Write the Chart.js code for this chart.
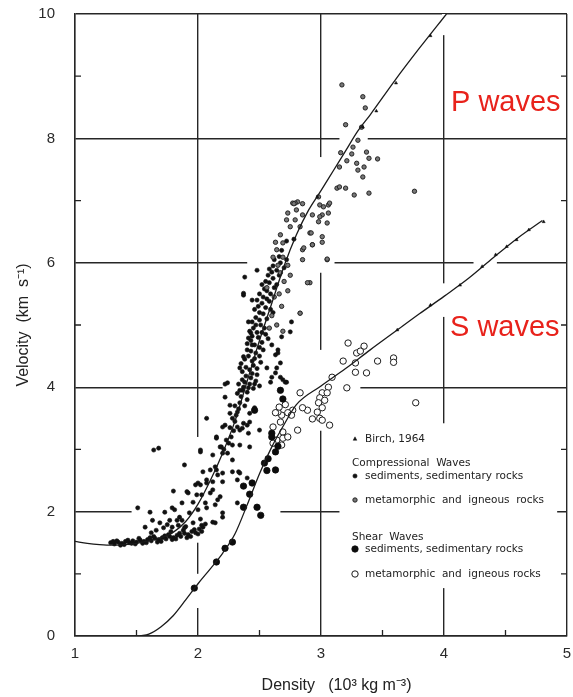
<!DOCTYPE html>
<html>
<head>
<meta charset="utf-8">
<script src="https://cdn.jsdelivr.net/npm/chart.js@4.4.1/dist/chart.umd.min.js"></script>
<style>
  html, body { margin: 0; padding: 0; background: #fff; }
  canvas { display: block; }
</style>
</head>
<body>
<canvas id="chart" width="573" height="697"></canvas>
<script>
// axis ticks
const xTickLabels = [1, 2, 3, 4, 5];
const yTickLabels = [0, 2, 4, 6, 8, 10];

// Nafe-Drake curves (density, velocity)
const pCurve = [
  [1.0, 1.52], [1.1, 1.49], [1.2, 1.47], [1.3, 1.46], [1.4, 1.47], [1.5, 1.49],
  [1.6, 1.53], [1.7, 1.58], [1.8, 1.67], [1.9, 1.84], [2.0, 2.12], [2.1, 2.5],
  [2.2, 2.94], [2.3, 3.45], [2.4, 4.1], [2.5, 4.75], [2.6, 5.35], [2.7, 5.95],
  [2.8, 6.45], [2.9, 6.85], [3.0, 7.16], [3.1, 7.48], [3.2, 7.8], [3.3, 8.12],
  [3.4, 8.38], [3.6, 8.93], [3.8, 9.45], [4.02, 10.0]
];
const sCurve = [
  [1.53, 0.0], [1.6, 0.03], [1.7, 0.15], [1.8, 0.33], [1.9, 0.58], [2.0, 0.84],
  [2.1, 1.08], [2.2, 1.33], [2.3, 1.64], [2.4, 2.11], [2.5, 2.61], [2.6, 3.04],
  [2.7, 3.4], [2.8, 3.72], [3.0, 4.02], [3.2, 4.3], [3.4, 4.6], [3.6, 4.89],
  [3.8, 5.18], [4.0, 5.46], [4.2, 5.75], [4.4, 6.08], [4.6, 6.4], [4.8, 6.68]
];

// Birch, 1964 marks on the curves
const birch = [
  [2.97, 7.06], [3.34, 8.18], [3.45, 8.44], [3.61, 8.89], [3.89, 9.65],
  [3.62, 4.92], [3.89, 5.32], [4.13, 5.64], [4.31, 5.94], [4.42, 6.13],
  [4.51, 6.26], [4.59, 6.37], [4.69, 6.53], [4.81, 6.66]
];

// compressional waves, sediments
const pSediments = [
  [1.29, 1.50], [1.32, 1.48], [1.35, 1.51], [1.38, 1.49], [1.41, 1.52], [1.44, 1.50], [1.47, 1.53],
  [1.50, 1.51], [1.53, 1.54], [1.56, 1.52], [1.59, 1.55], [1.62, 1.53], [1.65, 1.57], [1.68, 1.55],
  [1.71, 1.58], [1.74, 1.56], [1.77, 1.60], [1.80, 1.58], [1.83, 1.62], [1.86, 1.60], [1.89, 1.65],
  [1.92, 1.63], [1.95, 1.68], [1.98, 1.66], [2.01, 1.72], [2.04, 1.75],
  [1.34, 1.53], [1.40, 1.47], [1.46, 1.49], [1.52, 1.57], [1.58, 1.50], [1.64, 1.60], [1.70, 1.52],
  [1.76, 1.63], [1.82, 1.56], [1.88, 1.70], [1.94, 1.60], [2.00, 1.64],
  [1.31, 1.52], [1.37, 1.46], [1.43, 1.54], [1.49, 1.48], [1.55, 1.49], [1.61, 1.58], [1.67, 1.51],
  [1.73, 1.61], [1.79, 1.55], [1.85, 1.65], [1.91, 1.58], [1.97, 1.71], [2.03, 1.68], [2.06, 1.80],
  [1.66, 1.70], [1.72, 1.74], [1.78, 1.68], [1.84, 1.78], [1.90, 1.76], [1.96, 1.82], [2.02, 1.88],
  [1.62, 1.66], [1.75, 1.79], [1.87, 1.86],
  [1.80, 2.33], [1.51, 2.06], [1.61, 1.99], [1.73, 1.99], [1.81, 2.03], [1.92, 2.30], [1.98, 2.43],
  [2.03, 2.27], [1.87, 2.14], [1.57, 1.75], [1.63, 1.86], [1.69, 1.82], [1.77, 1.86], [1.85, 1.91],
  [1.93, 1.98], [2.00, 2.03], [2.06, 2.14], [2.12, 1.83], [2.20, 1.98], [2.10, 2.30], [2.16, 2.19],
  [1.79, 1.75], [1.89, 1.74], [2.03, 1.78], [1.64, 2.99], [1.68, 3.02],
  [1.89, 2.75], [1.91, 2.32], [1.96, 2.15], [1.99, 2.27], [2.07, 2.46], [2.02, 2.43], [2.12, 2.35],
  [2.18, 2.24], [2.14, 2.11], [2.07, 2.06], [1.83, 1.86], [1.79, 2.06], [2.10, 2.67], [2.15, 2.67],
  [2.20, 2.62], [2.33, 2.64], [2.12, 2.91], [2.18, 3.04], [2.20, 2.94], [2.28, 3.07], [2.34, 3.07],
  [2.42, 3.04], [2.02, 2.96], [2.15, 3.20], [2.20, 3.36], [2.32, 3.36], [2.36, 3.34], [2.40, 3.39],
  [2.20, 1.91], [2.14, 1.82], [2.32, 2.14],
  [2.07, 3.50], [2.02, 2.99], [2.22, 3.84], [2.26, 3.58], [2.22, 3.39], [2.15, 3.18], [2.19, 3.04],
  [2.14, 2.72], [2.07, 2.51], [2.16, 2.59], [2.28, 2.83], [2.24, 2.94], [2.41, 3.26], [2.34, 3.31],
  [2.37, 3.42], [2.42, 3.44], [2.32, 3.60], [2.42, 3.58], [2.46, 3.67], [2.50, 3.31], [2.34, 2.62],
  [2.40, 2.54], [2.32, 2.51], [2.28, 2.64], [2.20, 2.48], [2.12, 2.48], [2.04, 2.64], [2.00, 2.46],
  [2.26, 3.71], [2.22, 4.05], [2.41, 3.99],
  [2.25, 3.10], [2.27, 3.20], [2.29, 3.30], [2.30, 3.45], [2.31, 3.55], [2.33, 3.65], [2.34, 3.75],
  [2.35, 3.85], [2.36, 3.95], [2.28, 3.50], [2.30, 3.70], [2.32, 3.90], [2.38, 3.70], [2.40, 3.80],
  [2.26, 3.35], [2.23, 3.15], [2.21, 3.00],
  [2.34, 3.95], [2.37, 4.00], [2.40, 3.92], [2.42, 4.05], [2.45, 3.98], [2.47, 4.10], [2.36, 4.12],
  [2.39, 4.18], [2.43, 4.15], [2.48, 4.20], [2.50, 4.02], [2.33, 4.05],
  [2.36, 4.25], [2.39, 4.32], [2.42, 4.28], [2.45, 4.35], [2.48, 4.30], [2.51, 4.40], [2.38, 4.45],
  [2.41, 4.50], [2.44, 4.42], [2.47, 4.55], [2.50, 4.50], [2.53, 4.60], [2.40, 4.60], [2.35, 4.38],
  [2.40, 4.70], [2.43, 4.75], [2.46, 4.68], [2.49, 4.80], [2.52, 4.72], [2.55, 4.85], [2.42, 4.90],
  [2.45, 4.95], [2.48, 4.88], [2.51, 5.00], [2.54, 4.95], [2.57, 4.78], [2.44, 4.82],
  [2.44, 5.05], [2.47, 5.12], [2.50, 5.08], [2.53, 5.18], [2.56, 5.10], [2.59, 5.25], [2.46, 5.25],
  [2.49, 5.30], [2.52, 5.35], [2.55, 5.28], [2.58, 5.38], [2.61, 5.20], [2.48, 5.40],
  [2.50, 5.50], [2.53, 5.45], [2.56, 5.55], [2.59, 5.50], [2.62, 5.60], [2.52, 5.65], [2.55, 5.70],
  [2.58, 5.68], [2.61, 5.75], [2.64, 5.65], [2.57, 5.80], [2.66, 5.80],
  [2.58, 5.90], [2.61, 5.95], [2.64, 5.88], [2.67, 6.00], [2.70, 5.92], [2.62, 6.05], [2.66, 6.10],
  [2.72, 6.05], [2.48, 5.88], [2.78, 6.38], [2.68, 6.20], [2.72, 6.35],
  [2.38, 5.77], [2.37, 5.48], [2.44, 5.40], [2.41, 5.05], [2.41, 4.79], [2.44, 4.68], [2.37, 4.49],
  [2.34, 4.31], [2.24, 4.07], [2.43, 4.87], [2.37, 5.51],
  [2.83, 5.19], [2.76, 5.05], [2.75, 4.89], [2.68, 4.81], [2.60, 4.68], [2.65, 4.60], [2.63, 4.52],
  [2.64, 4.31], [2.60, 4.16], [2.67, 4.16], [2.71, 4.08], [2.56, 4.31], [2.65, 4.55], [2.63, 4.23],
  [2.59, 4.08], [2.69, 4.12], [2.67, 4.39], [2.72, 4.08],
  [2.38, 4.08], [2.44, 4.22], [2.46, 4.46], [2.43, 4.58], [2.50, 4.64], [2.47, 5.00], [2.50, 5.20],
  [2.54, 5.58], [2.60, 5.85], [2.46, 4.05], [2.52, 4.88], [2.56, 5.42]
];

// compressional waves, metamorphic and igneous rocks
const pMetamorphic = [
  [2.77, 6.96], [2.81, 6.98], [2.85, 6.95], [2.73, 6.80], [2.72, 6.69], [2.79, 6.69], [2.85, 6.77],
  [2.75, 6.58], [2.83, 6.58], [2.67, 6.45], [2.63, 6.33], [2.69, 6.32], [2.64, 6.21], [2.61, 6.09],
  [2.69, 6.09], [2.65, 5.96], [2.73, 5.96], [2.67, 5.84], [2.75, 5.80],
  [2.98, 7.06], [2.99, 6.93], [2.93, 6.77], [3.01, 6.77], [3.06, 6.93], [3.06, 6.80], [2.98, 6.66],
  [3.05, 6.64], [2.91, 6.48], [3.01, 6.42], [3.01, 6.33], [2.93, 6.29], [2.85, 6.21], [2.85, 6.05],
  [3.05, 6.05], [3.13, 7.20], [3.15, 7.22], [2.79, 6.96],
  [3.17, 8.86], [3.34, 8.67], [3.36, 8.49], [3.20, 8.22], [3.33, 8.18], [3.30, 7.97], [3.26, 7.86],
  [3.37, 7.78], [3.39, 7.68], [3.46, 7.67], [3.25, 7.75], [3.21, 7.64], [3.29, 7.60], [3.35, 7.54],
  [3.30, 7.49], [3.34, 7.38], [3.15, 7.54], [3.16, 7.77], [3.20, 7.20], [3.27, 7.09], [3.39, 7.12],
  [3.76, 7.15], [2.78, 6.95], [2.80, 6.85],
  [3.02, 6.90], [3.07, 6.96], [2.99, 6.74], [2.92, 6.48], [2.86, 6.24], [2.93, 6.29], [3.05, 6.06],
  [2.91, 5.68], [2.83, 5.19], [2.89, 5.68],
  [2.56, 5.60], [2.62, 5.45], [2.66, 5.50], [2.70, 5.70], [2.60, 5.15], [2.64, 5.00], [2.68, 5.30],
  [2.73, 5.55], [2.69, 4.90], [2.58, 4.95]
];

// shear waves, sediments
const sSediments = [
  [1.97, 0.77], [2.15, 1.19], [2.22, 1.41], [2.28, 1.51], [2.37, 2.07], [2.42, 2.28], [2.44, 2.46],
  [2.37, 2.41], [2.48, 2.07], [2.51, 1.94], [2.56, 2.66], [2.63, 2.67], [2.57, 2.85], [2.63, 2.96],
  [2.60, 3.26], [2.65, 3.05], [2.54, 2.78], [2.69, 3.81], [2.67, 3.95], [2.46, 3.63], [2.60, 3.20]
];

// shear waves, metamorphic and igneous rocks
const sMetamorphic = [
  [3.22, 4.71], [3.35, 4.66], [3.29, 4.55], [3.32, 4.58], [3.18, 4.42], [3.28, 4.39], [3.28, 4.24],
  [3.37, 4.23], [3.46, 4.42], [3.59, 4.47], [3.59, 4.40], [3.21, 3.99], [3.09, 4.16], [3.77, 3.75],
  [2.83, 3.91], [3.06, 4.00], [3.01, 3.91], [3.05, 3.91], [2.99, 3.83], [3.03, 3.79], [2.98, 3.75],
  [3.01, 3.67], [2.97, 3.60], [2.89, 3.63], [2.85, 3.67], [2.77, 3.63], [2.73, 3.59], [2.76, 3.55],
  [2.93, 3.49], [2.99, 3.50], [3.07, 3.39], [3.01, 3.47], [2.81, 3.31], [2.68, 3.55], [2.65, 3.60],
  [2.63, 3.59], [2.67, 3.44], [2.61, 3.36], [2.69, 3.28], [2.69, 3.18], [2.73, 3.20], [2.64, 3.15],
  [2.61, 3.10], [2.68, 3.07], [2.66, 3.68], [2.71, 3.72]
];

// where the printed grid lines are broken (value ranges along each line)
const gridBreaksX = {
  2: [[1.5, 3.2], [0.45, 1.0]],
  3: [[5.84, 7.7], [3.3, 4.6]],
  4: [[9.66, 10], [5.13, 5.67], [0.77, 3.42]]
};
const gridBreaksY = {
  8: [[3.15, 3.38]],
  6: [[2.4, 3.11], [4.24, 4.43]],
  4: [[2.2, 3.32]],
  2: [[1.46, 2.67], [3.15, 4.92]]
};

const toXY = arr => arr.map(p => ({ x: p[0], y: p[1] }));

// legend text inside the plot
const legendRows = [
  { key: "birch", text: "Birch, 1964" },
  { heading: "Compressional  Waves" },
  { key: "pSed", text: "sediments, sedimentary rocks" },
  { key: "pMet", text: "metamorphic  and  igneous  rocks" },
  { heading: "Shear  Waves" },
  { key: "sSed", text: "sediments, sedimentary rocks" },
  { key: "sMet", text: "metamorphic  and  igneous rocks" }
];
const legendRowY = [425, 449, 462, 486, 523, 535, 560];

const markerStyle = {
  birch: { style: "triangle", r: 1.8, fill: "#111", stroke: "#111", w: 0.5 },
  pSed: { style: "circle", r: 2.1, fill: "#111", stroke: "#111", w: 0.6 },
  pMet: { style: "circle", r: 2.2, fill: "#777", stroke: "#1a1a1a", w: 0.9 },
  sSed: { style: "circle", r: 3.2, fill: "#0c0c0c", stroke: "#0c0c0c", w: 0.8 },
  sMet: { style: "circle", r: 3.2, fill: "#ffffff", stroke: "#1c1c1c", w: 1 }
};

function drawMarker(ctx, m, x, y) {
  ctx.save();
  ctx.fillStyle = m.fill;
  ctx.strokeStyle = m.stroke;
  ctx.lineWidth = m.w;
  ctx.beginPath();
  if (m.style === "triangle") {
    ctx.moveTo(x, y - m.r * 1.2);
    ctx.lineTo(x + m.r, y + m.r * 0.7);
    ctx.lineTo(x - m.r, y + m.r * 0.7);
    ctx.closePath();
  } else {
    ctx.arc(x, y, m.r, 0, Math.PI * 2);
  }
  ctx.fill();
  ctx.stroke();
  ctx.restore();
}

// inward minor ticks, broken grid lines
const gridExtras = {
  id: "gridExtras",
  beforeDatasetsDraw(chart) {
    const { ctx, chartArea: a, scales } = chart;
    const sx = scales.x, sy = scales.y;
    ctx.save();
    ctx.fillStyle = "#fff";
    Object.keys(gridBreaksX).forEach(k => {
      const x = sx.getPixelForValue(+k);
      gridBreaksX[k].forEach(([v0, v1]) => {
        const y0 = sy.getPixelForValue(v1), y1 = sy.getPixelForValue(v0);
        ctx.fillRect(x - 2, y0, 4, y1 - y0);
      });
    });
    Object.keys(gridBreaksY).forEach(k => {
      const y = sy.getPixelForValue(+k);
      gridBreaksY[k].forEach(([d0, d1]) => {
        const x0 = sx.getPixelForValue(d0), x1 = sx.getPixelForValue(d1);
        ctx.fillRect(x0, y - 2, x1 - x0, 4);
      });
    });

    ctx.strokeStyle = "#222";
    ctx.lineWidth = 1.3;
    ctx.beginPath();
    [1, 3, 5, 7, 9].forEach(v => {
      const y = sy.getPixelForValue(v);
      ctx.moveTo(a.left, y); ctx.lineTo(a.left + 6, y);
      ctx.moveTo(a.right - 6, y); ctx.lineTo(a.right, y);
    });
    [1.5, 2.5, 3.5, 4.5].forEach(d => {
      const x = sx.getPixelForValue(d);
      ctx.moveTo(x, a.bottom); ctx.lineTo(x, a.bottom - 6);
    });
    ctx.stroke();
    ctx.restore();
  }
};

const labels = {
  id: "labels",
  afterDatasetsDraw(chart) {
    const { ctx, chartArea: a } = chart;
    ctx.save();
    ctx.fillStyle = "#e8221b";
    ctx.font = "29px 'Liberation Sans', Arial, sans-serif";
    ctx.textBaseline = "alphabetic";
    ctx.fillText("P waves", a.left + 376, a.top + 97);
    ctx.fillText("S waves", a.left + 375, a.top + 322);

    ctx.fillStyle = "#222";
    ctx.font = "10.5px 'DejaVu Sans', sans-serif";
    ctx.textBaseline = "middle";
    legendRows.forEach((row, i) => {
      const y = a.top + legendRowY[i];
      if (row.heading) {
        ctx.fillText(row.heading, a.left + 277, y);
      } else {
        drawMarker(ctx, markerStyle[row.key], a.left + 280, y);
        ctx.fillText(row.text, a.left + 290, y);
      }
    });
    ctx.restore();
  }
};

function pointSet(data, m, order) {
  return {
    type: "scatter",
    data: toXY(data),
    showLine: false,
    pointStyle: m.style,
    pointRadius: m.r,
    pointBackgroundColor: m.fill,
    pointBorderColor: m.stroke,
    pointBorderWidth: m.w,
    order: order
  };
}

function curveSet(data, order) {
  return {
    type: "line",
    data: toXY(data),
    borderColor: "#1a1a1a",
    borderWidth: 1.3,
    pointRadius: 0,
    cubicInterpolationMode: "monotone",
    fill: false,
    order: order
  };
}

const tickFont = { family: "'Liberation Sans', Arial, sans-serif", size: 15 };

new Chart(document.getElementById("chart"), {
  type: "scatter",
  data: {
    datasets: [
      pointSet(pSediments, markerStyle.pSed, 5),
      pointSet(pMetamorphic, markerStyle.pMet, 4),
      pointSet(sMetamorphic, markerStyle.sMet, 3),
      pointSet(sSediments, markerStyle.sSed, 2),
      curveSet(pCurve, 1),
      curveSet(sCurve, 1),
      pointSet(birch, markerStyle.birch, 0)
    ]
  },
  options: {
    responsive: false,
    animation: false,
    layout: { padding: { left: 0, right: 6, top: 14, bottom: 0 } },
    plugins: { legend: { display: false }, tooltip: { enabled: false } },
    scales: {
      x: {
        type: "linear",
        min: 1, max: 5,
        afterFit: s => { s.height = 61; s.paddingLeft = 0; s.paddingRight = 0; },
        ticks: {
          stepSize: 1,
          padding: 9,
          color: "#2a2a2a",
          font: tickFont,
          callback: v => (xTickLabels.includes(v) ? String(v) : "")
        },
        grid: { color: "#262626", lineWidth: 1.4, drawTicks: false },
        border: { color: "#262626", width: 1.4 },
        title: {
          display: true,
          text: "       Density   (10\u00b3 kg m\u207b\u00b3)",
          color: "#222",
          font: { family: "'Liberation Sans', Arial, sans-serif", size: 16 },
          padding: { top: 0, bottom: 2 }
        }
      },
      y: {
        type: "linear",
        min: 0, max: 10,
        afterFit: s => { s.width = 75; s.paddingTop = 0; s.paddingBottom = 0; },
        ticks: {
          stepSize: 1,
          padding: 20,
          color: "#2a2a2a",
          font: tickFont,
          callback: v => (yTickLabels.includes(v) ? String(v) : "")
        },
        grid: {
          drawTicks: false,
          lineWidth: 1.4,
          color: c => (c.tick && yTickLabels.includes(c.tick.value) ? "#262626" : "rgba(0,0,0,0)")
        },
        border: { color: "#262626", width: 1.4 },
        title: {
          display: true,
          text: "Velocity  (km  s\u207b\u00b9)",
          color: "#222",
          font: { family: "'Liberation Sans', Arial, sans-serif", size: 16 },
          padding: { top: 14, bottom: 0 }
        }
      }
    }
  },
  plugins: [gridExtras, labels]
});
</script>
</body>
</html>
